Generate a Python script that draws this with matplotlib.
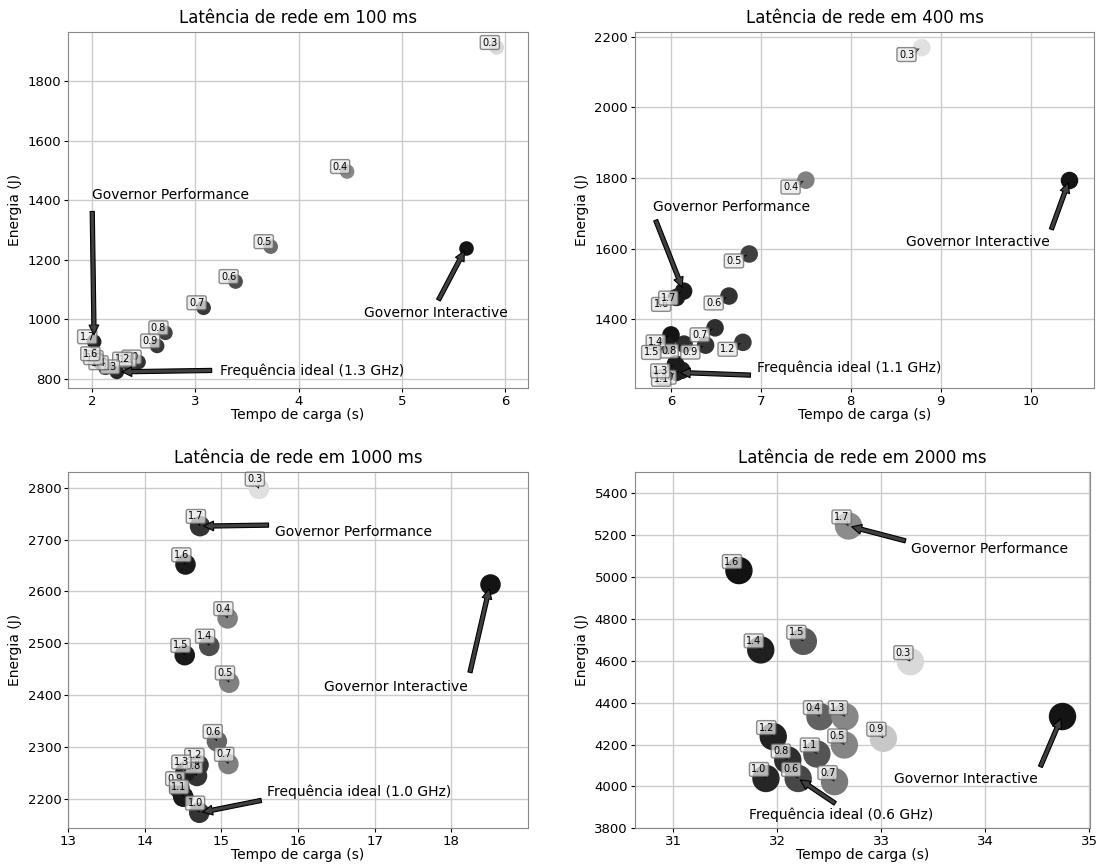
import matplotlib
matplotlib.use("Agg")
import matplotlib.pyplot as plt
import numpy as np

freqs = ["0.3", "0.4", "0.5", "0.6", "0.7", "0.8", "0.9", "1.0",
         "1.1", "1.2", "1.3", "1.4", "1.5", "1.6", "1.7"]

# tempo de carga (s) e energia (J) por frequencia, para cada latencia
t_100 = [5.92, 4.47, 3.73, 3.39, 3.08, 2.71, 2.63, 2.45, 2.40, 2.36, 2.24, 2.13, 2.08, 2.05, 2.02]
e_100 = [1912, 1496, 1244, 1127, 1039, 955, 911, 857, 847, 850, 824, 838, 855, 868, 925]
t_400 = [8.79, 7.50, 6.87, 6.645, 6.49, 6.145, 6.385, 6.12, 6.06, 6.80, 6.05, 6.00, 5.95, 6.06, 6.14]
e_400 = [2169, 1794, 1585, 1466, 1376, 1330, 1327, 1256, 1250, 1335, 1274, 1356, 1326, 1462, 1480]
t_1000 = [15.49, 15.08, 15.10, 14.94, 15.09, 14.68, 14.45, 14.71, 14.50, 14.70, 14.53, 14.84, 14.52, 14.53, 14.72]
e_1000 = [2798, 2548, 2424, 2311, 2267, 2244, 2220, 2173, 2204, 2265, 2252, 2495, 2477, 2652, 2726]
t_2000 = [33.28, 32.41, 32.645, 32.20, 32.55, 32.10, 33.02, 31.89, 32.38, 31.96, 32.65, 31.84, 32.25, 31.63, 32.685]
e_2000 = [4596, 4333, 4198, 4038, 4023, 4126, 4230, 4038, 4155, 4238, 4333, 4652, 4693, 5031, 5244]

# governor interactive
inter_t = [5.62, 10.43, 18.51, 34.74]
inter_e = [1239, 1794, 2614, 4336]

latencias = [100, 400, 1000, 2000]
ideal = ["1.3", "1.1", "1.0", "0.6"]

# tons de cinza dos pontos
g_100 = [0.85, 0.53, 0.42, 0.3, 0.22, 0.25, 0.22, 0.2, 0.2, 0.2, 0.15, 0.18, 0.15, 0.15, 0.12]
g_400 = [0.88, 0.5, 0.25, 0.2, 0.18, 0.18, 0.2, 0.12, 0.12, 0.22, 0.1, 0.08, 0.1, 0.1, 0.1]
g_1000 = [0.88, 0.5, 0.5, 0.4, 0.5, 0.2, 0.15, 0.2, 0.1, 0.2, 0.12, 0.3, 0.1, 0.1, 0.2]
g_2000 = [0.85, 0.38, 0.52, 0.28, 0.48, 0.18, 0.78, 0.15, 0.33, 0.13, 0.53, 0.12, 0.35, 0.07, 0.55]

plots = [
    dict(t=t_100, e=e_100, g=g_100, s=90, off=(-5, 3.6),
         xlim=(1.77, 6.22), ylim=(769, 1965), xt=np.arange(2, 7), yt=np.arange(800, 1801, 200),
         perf_txt=(2.0, 1405), inter_txt=(4.63, 1009), ideal_txt=(3.235, 815)),
    dict(t=t_400, e=e_400, g=g_400, s=135, off=(-11, -5),
         xlim=(5.60, 10.71), ylim=(1205, 2214), xt=np.arange(6, 11), yt=np.arange(1400, 2201, 200),
         perf_txt=(5.80, 1708), inter_txt=(8.61, 1608), ideal_txt=(6.96, 1250)),
    dict(t=t_1000, e=e_1000, g=g_1000, s=190, off=(-3, 7),
         xlim=(13.0, 19.0), ylim=(2143, 2831), xt=np.arange(13, 19), yt=np.arange(2200, 2801, 100),
         perf_txt=(15.70, 2707), inter_txt=(16.345, 2408), ideal_txt=(15.60, 2205)),
    dict(t=t_2000, e=e_2000, g=g_2000, s=350, off=(-5, 6.5),
         xlim=(30.63, 35.01), ylim=(3800, 5503), xt=np.arange(31, 36), yt=np.arange(3800, 5401, 200),
         perf_txt=(33.29, 5113), inter_txt=(33.125, 4015), ideal_txt=(31.73, 3844)),
]

positions = [[0.0623, 0.5506, 0.4188, 0.4127],
             [0.5789, 0.5506, 0.4187, 0.4127],
             [0.0623, 0.0413, 0.4188, 0.4127],
             [0.5789, 0.0413, 0.4148, 0.4127]]

big_arrow = dict(facecolor="#404040", edgecolor="black", shrink=0.05,
                 width=3, headwidth=7, headlength=7, lw=0.8)

fig = plt.figure(figsize=(10.97, 8.64), dpi=100)

for i, p in enumerate(plots):
    ax = fig.add_axes(positions[i])
    cols = [str(v) for v in p["g"]]
    ax.scatter(p["t"], p["e"], s=p["s"], c=cols, zorder=3)
    ax.scatter([inter_t[i]], [inter_e[i]], s=p["s"], c="0.08", zorder=3)

    for lab, x, y in zip(freqs, p["t"], p["e"]):
        ax.annotate(lab, xy=(x, y), xytext=p["off"], textcoords="offset points",
                    ha="center", va="center", fontsize=7, zorder=4,
                    bbox=dict(boxstyle="round,pad=0.2", fc="#e8e8e8", ec="#666666", alpha=0.75),
                    arrowprops=dict(arrowstyle="->", lw=0.5, color="black"))

    k = freqs.index("1.7")
    ax.annotate("Governor Performance", xy=(p["t"][k], p["e"][k]), xytext=p["perf_txt"],
                fontsize=10, arrowprops=big_arrow, zorder=5)
    ax.annotate("Governor Interactive", xy=(inter_t[i], inter_e[i]), xytext=p["inter_txt"],
                fontsize=10, arrowprops=big_arrow, zorder=5)
    k = freqs.index(ideal[i])
    ax.annotate("Frequência ideal (%s GHz)" % ideal[i], xy=(p["t"][k], p["e"][k]),
                xytext=p["ideal_txt"], fontsize=10, arrowprops=big_arrow, zorder=5)

    ax.set_xlim(p["xlim"])
    ax.set_ylim(p["ylim"])
    ax.set_xticks(p["xt"])
    ax.set_yticks(p["yt"])
    ax.grid(True, color="#cccccc", lw=1, zorder=0)
    ax.set_axisbelow(True)
    for sp in ax.spines.values():
        sp.set_color("#888888")
    ax.tick_params(labelsize=9.5, length=3, pad=2)
    ax.set_title("Latência de rede em %d ms" % latencias[i], fontsize=12)
    ax.set_xlabel("Tempo de carga (s)", fontsize=10, labelpad=0)
    ax.set_ylabel("Energia (J)", fontsize=10)

fig.savefig("out.png", dpi=100)
